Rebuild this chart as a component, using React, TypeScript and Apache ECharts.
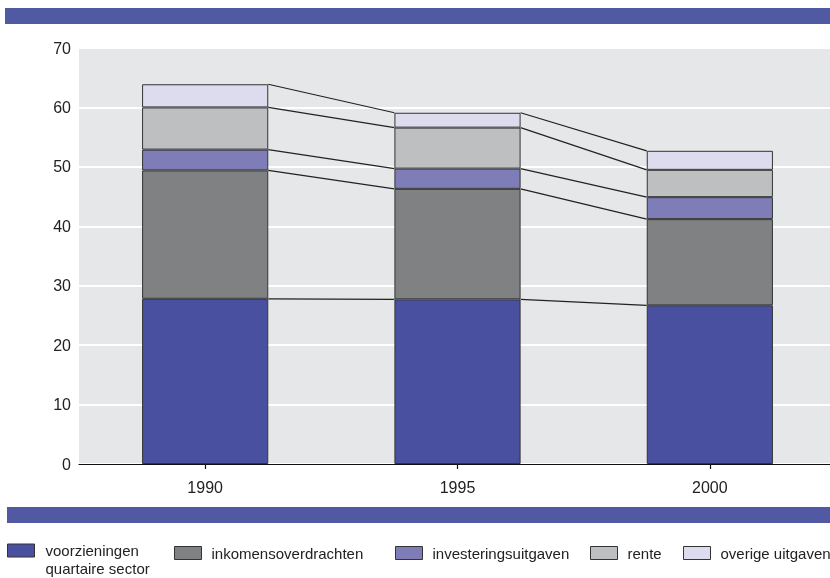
import React, { useEffect, useRef } from "react";
import * as echarts from "echarts";

const categories = ["1990", "1995", "2000"];
const voorzieningen = [27.8, 27.7, 26.7];
const inkomensoverdrachten = [21.6, 18.6, 14.5];
const investeringsuitgaven = [3.5, 3.4, 3.7];
const rente = [7.1, 6.9, 4.6];
const overige = [3.9, 2.5, 3.2];

const seriesNames = [
  "voorzieningen quartaire sector",
  "inkomensoverdrachten",
  "investeringsuitgaven",
  "rente",
  "overige uitgaven",
];
const seriesValues = [voorzieningen, inkomensoverdrachten, investeringsuitgaven, rente, overige];
const colors = ["#4a50a0", "#808182", "#7e7db8", "#bebfc1", "#dcdcee"];

const FONT = "'Liberation Sans', Arial, sans-serif";

export default function App() {
  const ref = useRef<HTMLDivElement>(null);
  useEffect(() => {
    if (!ref.current) return;
    const chart = echarts.init(ref.current, null, { renderer: "svg" });

    const cum: number[][] = [];
    seriesValues.forEach((vals, k) => {
      cum.push(vals.map((v, i) => (k === 0 ? v : cum[k - 1][i] + v)));
    });

    const barSeries = seriesNames.map((name, k) => ({
      name,
      type: "bar",
      stack: "total",
      barWidth: "50%",
      xAxisIndex: 0,
      yAxisIndex: 0,
      data: seriesValues[k],
      itemStyle: { color: colors[k], borderColor: "#333", borderWidth: 1 },
      emphasis: { disabled: true },
    }));

    const legendLeft = [7, 174, 395, 590, 683];

    const legends = seriesNames.map((name, k) => ({
      data: [name],
      left: legendLeft[k],
      top: k === 0 ? 523.5 : 544,
      padding: 0,
      itemWidth: 27,
      itemHeight: 13,
      icon: "rect",
      selectedMode: false,
      formatter: (n: string) => (k === 0 ? "\nvoorzieningen\nquartaire sector" : n),
      itemStyle: { borderColor: "#333", borderWidth: 1 },
      textStyle: {
        fontFamily: FONT,
        fontSize: 15,
        color: "#222",
        lineHeight: 18,
        padding: k === 0 ? [0, 0, 0, 6] : [0, 0, 0, 5],
      },
    }));

    chart.setOption({
      animation: false,
      grid: {
        left: 79,
        top: 48,
        width: 757,
        height: 416,
        show: true,
        backgroundColor: "#e6e7e8",
        borderWidth: 0,
      },
      legend: legends,
      graphic: [
        { type: "rect", shape: { x: 5, y: 8, width: 825, height: 16 }, style: { fill: "#5259a3" } },
        { type: "rect", shape: { x: 7, y: 507, width: 823, height: 16 }, style: { fill: "#5259a3" } },
      ],
      xAxis: [
        {
          type: "category",
          data: categories,
          axisLine: { show: true, lineStyle: { color: "#111", width: 1.2 } },
          axisTick: { show: true, alignWithLabel: true, length: 5, lineStyle: { color: "#111", width: 1.2 } },
          axisLabel: { fontFamily: FONT, fontSize: 16, color: "#222", margin: 15 },
          splitLine: { show: false },
        },
        {
          type: "category",
          data: categories,
          position: "bottom",
          axisLine: { show: false },
          axisTick: { show: true, inside: true, alignWithLabel: true, length: 6, lineStyle: { color: "#111", width: 1.2 } },
          axisLabel: { show: false },
          splitLine: { show: false },
        },
      ],
      yAxis: {
        type: "value",
        min: 0,
        max: 70,
        interval: 10,
        axisLine: { show: false },
        axisTick: { show: false },
        axisLabel: { fontFamily: FONT, fontSize: 16, color: "#222", margin: 8 },
        splitLine: { show: true, lineStyle: { color: "#ffffff", width: 2 } },
      },
      series: [
        ...barSeries,
        {
          type: "custom",
          name: "connectors",
          xAxisIndex: 0,
          yAxisIndex: 0,
          z: 5,
          silent: true,
          data: [
            [0, cum[4][0]],
            [1, cum[4][1]],
          ],
          encode: { x: 0, y: 1 },
          renderItem: (params: any, api: any) => {
            const i = params.dataIndex;
            const bw = api.size([1, 0])[0] * 0.5;
            const children = cum.map((lv) => {
              const p1 = api.coord([i, lv[i]]);
              const p2 = api.coord([i + 1, lv[i + 1]]);
              return {
                type: "line",
                shape: { x1: p1[0] + bw / 2, y1: p1[1], x2: p2[0] - bw / 2, y2: p2[1] },
                style: { stroke: "#222", lineWidth: 1.2 },
              };
            });
            return { type: "group", children };
          },
        },
      ],
    });
    return () => chart.dispose();
  }, []);
  return (
    <div
      ref={ref}
      style={{ position: "fixed", left: 0, top: 0, width: 836, height: 578 }}
    />
  );
}
